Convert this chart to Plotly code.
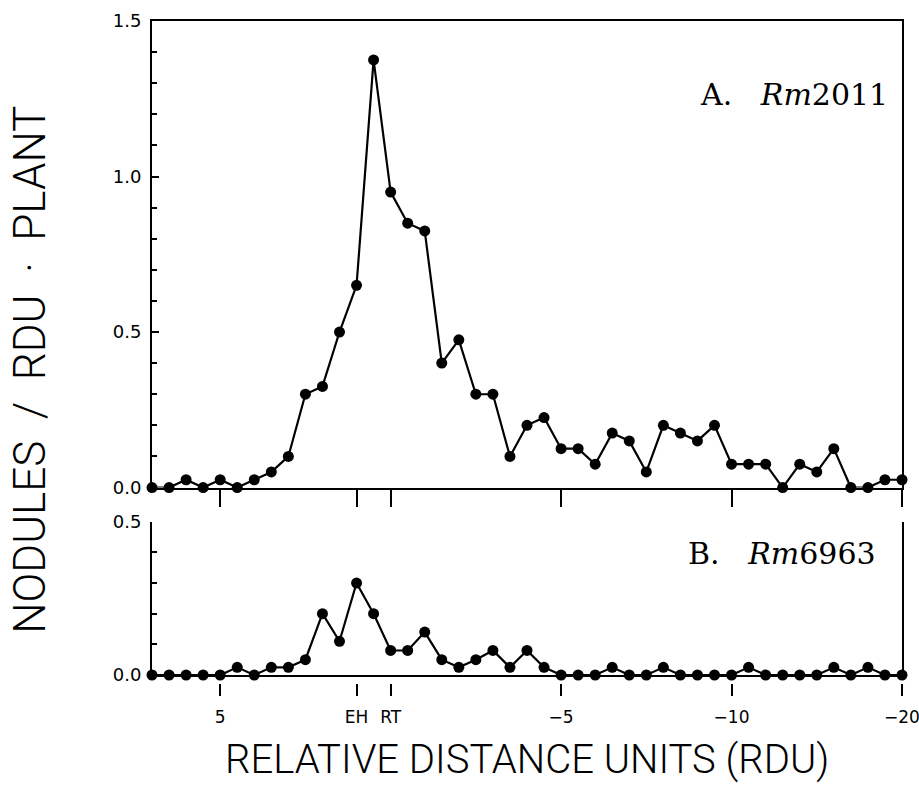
import plotly.graph_objects as go

# RDU positions (x axis runs from +7 down to -15 in 0.5 steps)
rdu = [7 - 0.5 * i for i in range(45)]

# Panel A: Rm2011 nodules / RDU . plant
rm2011 = [0, 0, 0.025, 0, 0.025, 0, 0.025, 0.05, 0.1, 0.3,
          0.325, 0.5, 0.65, 1.375, 0.95, 0.85, 0.825, 0.4, 0.475, 0.3,
          0.3, 0.1, 0.2, 0.225, 0.125, 0.125, 0.075, 0.175, 0.15, 0.05,
          0.2, 0.175, 0.15, 0.2, 0.075, 0.075, 0.075, 0, 0.075, 0.05,
          0.125, 0, 0, 0.025, 0.025]

# Panel B: Rm6963
rm6963 = [0, 0, 0, 0, 0, 0.025, 0, 0.025, 0.025, 0.05,
          0.2, 0.11, 0.3, 0.2, 0.08, 0.08, 0.14, 0.05, 0.025, 0.05,
          0.08, 0.025, 0.08, 0.025, 0, 0, 0, 0.025, 0, 0,
          0.025, 0, 0, 0, 0, 0.025, 0, 0, 0, 0,
          0.025, 0, 0.025, 0, 0]

tick_vals = [5, 1, 0, -5, -10, -15]
tick_text = ["5", "EH", "RT", "\u22125", "\u221210", "\u221220"]

TOP_DOM = [0.2995, 1.0]
BOT_DOM = [0.018, 0.2482]
XR = [7, -15]

fig = go.Figure()
line_style = dict(color="black", width=2.2)
marker_style = dict(color="black", size=11)

fig.add_trace(go.Scatter(x=rdu, y=rm2011, mode="lines+markers", line=line_style,
                         marker=marker_style, cliponaxis=False,
                         xaxis="x", yaxis="y", showlegend=False))
fig.add_trace(go.Scatter(x=rdu, y=rm6963, mode="lines+markers", line=line_style,
                         marker=marker_style, cliponaxis=False,
                         xaxis="x2", yaxis="y2", showlegend=False))
# carrier trace so the detached tick-label axis is drawn
fig.add_trace(go.Scatter(x=rdu[:1], y=[None], mode="markers", xaxis="x3", yaxis="y2",
                         showlegend=False, hoverinfo="skip"))

tick_font = dict(family="DejaVu Sans", size=17, color="black")
ytick_font = dict(family="DejaVu Sans", size=18, color="black")

fig.update_layout(
    width=919, height=787,
    margin=dict(l=152, r=17, t=21, b=100, autoexpand=False),
    paper_bgcolor="white", plot_bgcolor="white",
    xaxis=dict(domain=[0, 1], anchor="y", range=XR, showgrid=False, zeroline=False,
               automargin=False,
               showline=True, linecolor="black", linewidth=2, mirror=True,
               ticks="outside", ticklen=17, tickwidth=2, tickcolor="black",
               tickvals=tick_vals, showticklabels=False),
    yaxis=dict(domain=TOP_DOM, anchor="x", range=[0, 1.5], showgrid=False, zeroline=False,
               automargin=False,
               showline=True, linecolor="black", linewidth=2, mirror=True,
               ticks="inside", ticklen=7, tickwidth=2, tickcolor="black",
               tickvals=[0, 0.5, 1.0, 1.5], ticktext=["0.0", "0.5", "1.0", "1.5"],
               tickfont=ytick_font, ticklabelstandoff=5,
               minor=dict(dtick=0.1, ticks="inside", ticklen=5, tickwidth=1.5,
                          tickcolor="black", showgrid=False)),
    xaxis2=dict(domain=[0, 1], anchor="y2", range=XR, showgrid=False, zeroline=False,
                automargin=False,
                showline=True, linecolor="black", linewidth=2, mirror=False,
                ticks="", showticklabels=False),
    yaxis2=dict(domain=BOT_DOM, anchor="x2", range=[0, 0.5], showgrid=False, zeroline=False,
                automargin=False,
                showline=True, linecolor="black", linewidth=2, mirror=True,
                ticks="inside", ticklen=7, tickwidth=2, tickcolor="black",
                tickvals=[0, 0.5], ticktext=["0.0", "0.5"],
                tickfont=ytick_font, ticklabelstandoff=5,
                minor=dict(dtick=0.1, ticks="inside", ticklen=5, tickwidth=1.5,
                           tickcolor="black", showgrid=False)),
    xaxis3=dict(domain=[0, 1], overlaying="x2", anchor="free", position=0.006,
                automargin=False, ticklabeloverflow="allow",
                range=XR, showgrid=False, zeroline=False, showline=False,
                ticks="outside", ticklen=12, tickwidth=2, tickcolor="black",
                ticklabelstandoff=7,
                tickvals=tick_vals, ticktext=tick_text, tickfont=tick_font),
)

fig.add_annotation(text="NODULES&nbsp;&nbsp;/&nbsp;&nbsp;RDU&nbsp;&nbsp;\u00b7&nbsp;&nbsp;PLANT",
                   xref="paper", yref="paper",
                   x=-0.163, y=0.476, xanchor="center", yanchor="middle",
                   textangle=-90, showarrow=False,
                   font=dict(family="Roboto", size=44, color="black", weight=300))
fig.add_annotation(text="RELATIVE DISTANCE UNITS (RDU)", xref="paper", yref="paper",
                   x=0.5, y=-0.1096, xanchor="center", yanchor="middle",
                   showarrow=False,
                   font=dict(family="Roboto", size=40, color="black", weight=300))

label_font = dict(family="DejaVu Serif", size=30, color="black")
fig.add_annotation(text="A.&nbsp;&nbsp;&nbsp;<i>Rm</i>2011", xref="paper", yref="paper",
                   x=0.984, y=0.889, xanchor="right", yanchor="middle",
                   showarrow=False, font=label_font)
fig.add_annotation(text="B.&nbsp;&nbsp;&nbsp;<i>Rm</i>6963", xref="paper", yref="paper",
                   x=0.968, y=0.201, xanchor="right", yanchor="middle",
                   showarrow=False, font=label_font)

fig.write_html("out.html")
